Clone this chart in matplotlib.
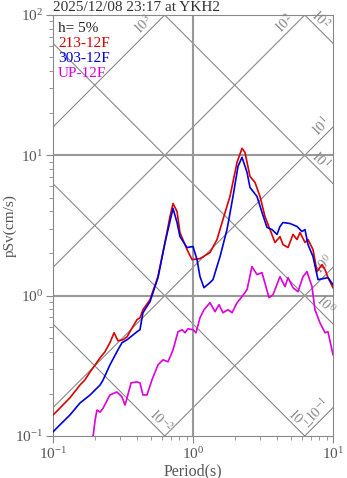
import numpy as np
import matplotlib
matplotlib.use('Agg')
import matplotlib.pyplot as plt

plt.rcParams['font.family'] = 'serif'
plt.rcParams['font.serif'] = ['Liberation Serif', 'DejaVu Serif']
plt.rcParams['mathtext.fontset'] = 'stix'

# 応答スペクトル (h=5%)
period_213 = [0.100, 0.112, 0.132, 0.156, 0.169, 0.184, 0.200, 0.217, 0.235, 0.255,
              0.273, 0.291, 0.316, 0.338, 0.361, 0.398, 0.418, 0.439, 0.493, 0.562,
              0.631, 0.685, 0.720, 0.769, 0.807, 0.906, 0.984, 1.122, 1.322, 1.484,
              1.637, 1.837, 2.063, 2.239, 2.350, 2.553, 2.773, 3.010, 3.266, 3.548,
              3.852, 4.180, 4.393, 4.771, 5.179, 5.535, 5.809, 6.310, 6.627, 7.197,
              7.687, 8.346, 8.770, 9.210, 10.0]
psv_213 = [0.141, 0.158, 0.187, 0.231, 0.251, 0.286, 0.321, 0.361, 0.398, 0.462,
           0.544, 0.477, 0.485, 0.509, 0.572, 0.674, 0.696, 0.794, 0.936, 1.367,
           2.393, 3.667, 4.539, 3.981, 2.818, 2.132, 1.807, 1.837, 2.028, 2.512,
           3.490, 5.095, 8.913, 11.22, 10.50, 7.079, 6.412, 5.095, 3.667, 2.958,
           2.393, 2.637, 2.312, 2.203, 2.729, 2.512, 2.818, 2.393, 2.512, 2.132,
           1.484, 1.665, 1.535, 1.344, 1.140]

period_303 = [0.100, 0.112, 0.132, 0.156, 0.184, 0.217, 0.228, 0.255, 0.291, 0.311,
              0.338, 0.398, 0.418, 0.439, 0.493, 0.562, 0.631, 0.720, 0.769, 0.807,
              0.906, 1.000, 1.068, 1.122, 1.198, 1.322, 1.389, 1.560, 1.749, 1.931,
              2.096, 2.239, 2.432, 2.553, 2.865, 3.111, 3.378, 3.667, 3.981, 4.180,
              4.393, 4.931, 5.535, 6.005, 6.310, 6.627, 7.197, 7.816, 8.483, 9.210,
              10.0]
psv_303 = [0.107, 0.120, 0.141, 0.172, 0.196, 0.231, 0.251, 0.321, 0.411, 0.462,
           0.485, 0.553, 0.572, 0.756, 0.906, 1.344, 2.393, 4.180, 3.322, 2.637,
           2.203, 2.239, 1.807, 1.367, 1.140, 1.239, 1.301, 1.900, 2.958, 5.095,
           8.346, 9.682, 7.565, 5.906, 5.095, 3.917, 3.062, 2.958, 2.729, 3.111,
           3.322, 3.266, 3.111, 2.865, 2.958, 2.312, 1.900, 1.301, 1.322, 1.344,
           1.198]

period_up = [0.193, 0.200, 0.206, 0.217, 0.228, 0.255, 0.286, 0.311, 0.327, 0.338,
             0.361, 0.398, 0.418, 0.439, 0.469, 0.509, 0.562, 0.611, 0.663, 0.720,
             0.781, 0.834, 0.877, 0.921, 1.000, 1.050, 1.122, 1.198, 1.322, 1.436,
             1.535, 1.637, 1.778, 1.900, 2.063, 2.239, 2.432, 2.637, 2.865, 3.111,
             3.490, 3.728, 4.180, 4.539, 4.771, 5.179, 5.623, 6.105, 6.518, 7.079,
             7.430, 8.072, 8.770, 9.210, 10.0]
psv_up = [0.098, 0.130, 0.153, 0.148, 0.158, 0.196, 0.206, 0.190, 0.166, 0.187,
          0.239, 0.243, 0.239, 0.196, 0.196, 0.251, 0.321, 0.349, 0.338, 0.411,
          0.553, 0.572, 0.544, 0.581, 0.572, 0.544, 0.696, 0.794, 0.891, 0.769,
          0.862, 0.756, 0.794, 0.756, 0.891, 0.984, 1.104, 1.611, 1.413, 1.459,
          0.968, 1.016, 1.367, 1.159, 1.344, 1.140, 1.068, 1.367, 1.484, 1.159,
          0.794, 0.641, 0.544, 0.553, 0.379]

# 加速度 (gal) と変位 (cm) の斜め線
acc_levels = [1e-1, 1e0, 1e1, 1e2, 1e3]
acc_label_T = [7.8, 8.5, 8.2, 4.47, 0.44]
disp_levels = [1e-2, 1e-1, 1e0, 1e1, 1e2]
disp_label_T = [0.59, 5.8, 8.77, 8.07, 8.07]

gray = '#888888'
txt = '#555555'

fig = plt.figure(figsize=(3.47, 4.78), dpi=100)
ax = fig.add_axes([53 / 347, 42 / 478, 280 / 347, 421 / 478])
ax.set_xscale('log')
ax.set_yscale('log')
ax.set_xlim(0.1, 10)
ax.set_ylim(0.1, 100)

T = np.array([0.1, 10.0])
w = 2 * np.pi
for a, tl in zip(acc_levels, acc_label_T):
    ax.plot(T, a * T / w, color=gray, lw=0.8, zorder=1)
    e = int(round(np.log10(a)))
    ax.text(tl, a * tl / w * 1.22, r'$10^{%d}$' % e, rotation=45,
            ha='center', va='center', fontsize=10, color=gray, zorder=2)
for d, tl in zip(disp_levels, disp_label_T):
    ax.plot(T, w * d / T, color=gray, lw=0.8, zorder=1)
    e = int(round(np.log10(d)))
    ax.text(tl, w * d / tl * 1.2, r'$10^{%d}$' % e, rotation=-45,
            ha='center', va='center', fontsize=10, color=gray, zorder=2)

# 10の累乗ごとの格子線
ax.axvline(1.0, color='#999999', lw=1.5, zorder=1)
for yv in [1.0, 10.0]:
    ax.axhline(yv, color='#999999', lw=1.5, zorder=1)

ax.plot(period_213, psv_213, color='#dd0000', lw=1.2, zorder=3)
ax.plot(period_303, psv_303, color='#0000dd', lw=1.2, zorder=4)
ax.plot(period_up, psv_up, color='#dd00dd', lw=1.2, zorder=3)

for s in ax.spines.values():
    s.set_color(gray)
ax.tick_params(which='both', direction='out', top=False, right=False,
               color=gray, labelcolor=txt, labelsize=11)
ax.tick_params(which='major', length=5, pad=2)
ax.tick_params(which='minor', length=3)

ax.set_xlabel('Period(s)', fontsize=11.5, color=txt, labelpad=1)
ax.set_ylabel('pSv(cm/s)', fontsize=11, color=txt)
ax.yaxis.set_label_coords(-0.13, 0.5)

labels = [('h= 5%', '#222222'), ('213-12F', '#dd0000'),
          ('303-12F', '#0000dd'), ('UP-12F', '#dd00dd')]
for i, (s, c) in enumerate(labels):
    ax.text(0.018, 0.983 - i * 0.0356, s, transform=ax.transAxes,
            ha='left', va='top', fontsize=11, color=c, zorder=5)

fig.text(53 / 347, 1 - 11 / 478, '2025/12/08 23:17 at YKH2', ha='left',
         va='baseline', fontsize=11, color='#333333')

fig.savefig('out.png', dpi=100)
